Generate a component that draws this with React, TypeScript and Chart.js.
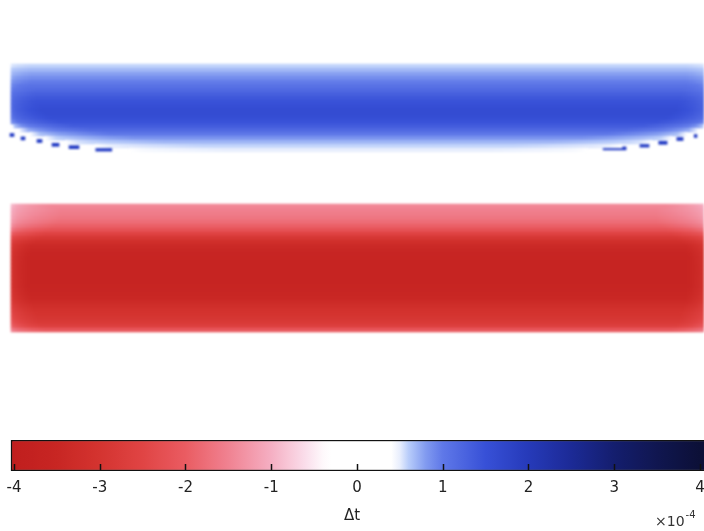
import React, { useEffect, useRef } from "react";
import { Chart, registerables } from "chart.js";

Chart.register(...registerables);

// Diverging colour scale for Δt (units of 1e-4): value stops and their RGB colours
const CMAP_VALUES = [-4, -3.5, -3, -2.5, -2, -1.5, -1, -0.6, -0.35, 0.45, 0.6, 0.8, 1.0, 1.5, 2.0, 2.5, 3.0, 3.5, 4];
const CMAP_COLORS: number[][] = [
  [192, 30, 30], [200, 38, 35], [212, 52, 48], [224, 68, 68], [234, 92, 98],
  [240, 130, 145], [245, 175, 195], [250, 222, 235], [255, 255, 255], [255, 255, 255],
  [185, 205, 250], [130, 155, 240], [95, 120, 232], [55, 80, 215], [38, 58, 185],
  [28, 42, 150], [20, 30, 110], [16, 22, 80], [12, 16, 55],
];

// Colour bar ticks
const TICK_VALUES = [-4, -3, -2, -1, 0, 1, 2, 3, 4];
const TICK_LABELS = ["-4", "-3", "-2", "-1", "0", "1", "2", "3", "4"];

// Upper field (positive Δt): one entry per depth row, starting at row BLUE_TOP
const BLUE_TOP = 15;
const blueValue = [0.45, 0.58, 0.68, 0.78, 0.88, 0.98, 1.08, 1.18, 1.3, 1.4, 1.48, 1.54, 1.58, 1.58, 1.55, 1.48, 1.36, 1.2, 1.02, 0.85, 0.7, 0.58, 0.5];
const blueEdge = [0.45, 0.52, 0.6, 0.66, 0.72, 0.8, 0.88, 0.95, 1.02, 1.08, 1.12, 1.14, 1.12, 1.08, 1.0, 0.85, 0.62, 0.5, 0.45, 0.45, 0.45, 0.45, 0.45];
const blueStart = [0, 0, 0, 0, 0, 0, 0, 0, 0, 0, 0, 0, 0, 0, 0, 0, 0.4, 1.3, 2.7, 4.9, 7.8, 12.1, 17.1];
const blueEnd = [100, 100, 100, 100, 100, 100, 100, 100, 100, 100, 100, 100, 100, 100, 100, 100, 99.6, 98.7, 97.3, 95.1, 92.2, 87.9, 82.9];
const blueRamp = [2.9, 2.9, 2.9, 2.9, 2.9, 2.9, 2.9, 3.6, 3.6, 3.6, 3.6, 4.3, 4.3, 5.0, 5.8, 7.2, 8.6, 10.1, 11.5, 12.9, 14.4, 15.8, 14.4];

// Lower field (negative Δt), starting at row RED_TOP
const RED_TOP = 51;
const redValue = [-1.45, -1.52, -1.58, -1.66, -1.78, -1.95, -2.2, -2.55, -2.9, -3.18, -3.36, -3.48, -3.55, -3.58, -3.6, -3.62, -3.62, -3.62, -3.6, -3.6, -3.58, -3.55, -3.52, -3.45, -3.35, -3.22, -3.1, -3.02, -2.95, -2.85, -2.65, -2.1];
const redEdge = [-0.9, -1.0, -1.05, -1.1, -1.2, -1.35, -1.6, -1.95, -2.3, -2.55, -2.7, -2.8, -2.85, -2.9, -2.9, -2.9, -2.9, -2.9, -2.9, -2.9, -2.9, -2.85, -2.8, -2.75, -2.65, -2.55, -2.45, -2.35, -2.25, -2.1, -1.9, -1.5];
const redRamp = [5.8, 7.2, 7.2, 7.2, 7.2, 6.5, 5.8, 5.0, 4.3, 3.6, 2.9, 2.9, 2.9, 2.9, 2.9, 2.9, 2.9, 2.9, 2.9, 2.9, 2.9, 2.9, 2.9, 2.9, 2.9, 3.2, 3.4, 3.6, 3.8, 4.0, 4.3, 5.0];
const RED_START = 0;
const RED_END = 100;

// Short streaks below the upper field
const dashStart = [-0.14, 1.44, 3.74, 5.9, 8.35, 12.2, 85.2, 90.5, 93.2, 95.8, 98.3];
const dashEnd = [0.43, 2.01, 4.46, 6.91, 9.78, 14.5, 88.5, 91.8, 94.4, 96.7, 98.7];
const dashDepth = [33.75, 34.6, 35.25, 36.2, 36.8, 37.4, 37.1, 36.4, 35.7, 34.75, 34.0];

// Horizontal extent shown and number of depth rows
const X_MIN = -1.583;
const X_MAX = 99.71;
const DEPTH_ROWS = 108;

// Colour bar axis range
const CB_MIN = -4.163;
const CB_MAX = 4.047;
const BAR_FROM = -4.035;
const BAR_TO = 4.4;

const FONT = "'DejaVu Sans', sans-serif";

function rgb(c: number[]): string {
  return `rgb(${Math.round(c[0])},${Math.round(c[1])},${Math.round(c[2])})`;
}

function colorAt(v: number): string {
  const n = CMAP_VALUES.length;
  if (v <= CMAP_VALUES[0]) return rgb(CMAP_COLORS[0]);
  if (v >= CMAP_VALUES[n - 1]) return rgb(CMAP_COLORS[n - 1]);
  for (let i = 0; i < n - 1; i++) {
    const a = CMAP_VALUES[i];
    const b = CMAP_VALUES[i + 1];
    if (v >= a && v <= b) {
      const t = (v - a) / (b - a);
      const c0 = CMAP_COLORS[i];
      const c1 = CMAP_COLORS[i + 1];
      return rgb([0, 1, 2].map((k) => c0[k] + (c1[k] - c0[k]) * t));
    }
  }
  return rgb(CMAP_COLORS[n - 1]);
}

// Row fill: flat at the row value, easing towards the edge value at both ends
function rowGradient(chart: any, x0: number, x1: number, edge: number, center: number, ramp: number) {
  const xs = chart.scales && chart.scales.x;
  if (!xs) return colorAt(center);
  const p0 = xs.getPixelForValue(x0);
  const p1 = xs.getPixelForValue(x1);
  if (!Number.isFinite(p0) || !Number.isFinite(p1) || p1 <= p0) return colorAt(center);
  const g = chart.ctx.createLinearGradient(p0, 0, p1, 0);
  const f = Math.min(0.5, ramp / (x1 - x0));
  const steps = 8;
  for (let s = 0; s <= steps; s++) {
    const t = s / steps;
    const c = colorAt(edge + (center - edge) * Math.sqrt(t));
    g.addColorStop(f * t, c);
    g.addColorStop(1 - f * t, c);
  }
  return g;
}

function fieldDataset(top: number, values: number[], edges: number[], starts: number[], ends: number[], ramps: number[]) {
  return {
    data: values.map((_, i) => ({ y: top + i + 0.5, x: [starts[i], ends[i]] })),
    backgroundColor: (c: any) => {
      if (c.type !== "data") return "transparent";
      const i = c.dataIndex;
      return rowGradient(c.chart, starts[i], ends[i], edges[i], values[i], ramps[i]);
    },
    borderWidth: 0,
    barThickness: 4,
    stack: "field",
  };
}

function barGradient(c: any) {
  const xs = c.chart.scales && c.chart.scales.x;
  if (!xs) return "#fff";
  const p0 = xs.getPixelForValue(-4);
  const p1 = xs.getPixelForValue(4);
  if (!Number.isFinite(p0) || !Number.isFinite(p1) || p1 <= p0) return "#fff";
  const g = c.chart.ctx.createLinearGradient(p0, 0, p1, 0);
  for (let k = 0; k <= 80; k++) {
    g.addColorStop(k / 80, colorAt(-4 + k * 0.1));
  }
  return g;
}

const innerTicks = {
  id: "innerTicks",
  afterDatasetsDraw(chart: any) {
    const { ctx, chartArea } = chart;
    const xs = chart.scales.x;
    ctx.save();
    ctx.strokeStyle = "#111";
    ctx.lineWidth = 1.5;
    for (const v of TICK_VALUES) {
      const px = Math.round(xs.getPixelForValue(v)) + 0.5;
      ctx.beginPath();
      ctx.moveTo(px, chartArea.bottom - 1);
      ctx.lineTo(px, chartArea.bottom - 7);
      ctx.stroke();
    }
    ctx.restore();
  },
  afterDraw(chart: any) {
    const { ctx } = chart;
    ctx.save();
    ctx.fillStyle = "#333";
    ctx.textBaseline = "alphabetic";
    ctx.font = `14px ${FONT}`;
    ctx.fillText("×10", 655, 96);
    const w = ctx.measureText("×10").width;
    ctx.font = `10px ${FONT}`;
    ctx.fillText("-4", 655 + w + 1, 88);
    ctx.restore();
  },
};

export default function App() {
  const heatRef = useRef<HTMLCanvasElement>(null);
  const barRef = useRef<HTMLCanvasElement>(null);

  useEffect(() => {
    const heat = new Chart(heatRef.current as HTMLCanvasElement, {
      type: "bar",
      data: {
        datasets: [
          fieldDataset(BLUE_TOP, blueValue, blueEdge, blueStart, blueEnd, blueRamp) as any,
          fieldDataset(
            RED_TOP,
            redValue,
            redEdge,
            redValue.map(() => RED_START),
            redValue.map(() => RED_END),
            redRamp
          ) as any,
          {
            data: dashStart.map((s, i) => ({ y: dashDepth[i], x: [s, dashEnd[i]] })),
            backgroundColor: "rgb(30,55,195)",
            borderWidth: 0,
            barThickness: 3,
            stack: "field",
          } as any,
        ],
      },
      options: {
        indexAxis: "y",
        animation: false,
        responsive: false,
        layout: { padding: 0 },
        plugins: { legend: { display: false }, tooltip: { enabled: false } },
        scales: {
          x: { type: "linear", min: X_MIN, max: X_MAX, display: false, stacked: false },
          y: { type: "linear", min: 0, max: DEPTH_ROWS, reverse: true, display: false, offset: false },
        },
      },
    });

    const bar = new Chart(barRef.current as HTMLCanvasElement, {
      type: "bar",
      data: {
        labels: ["Δt"],
        datasets: [
          {
            data: [[BAR_FROM, BAR_TO]] as any,
            backgroundColor: barGradient,
            borderColor: "#111",
            borderWidth: 1.5,
            borderSkipped: false,
            categoryPercentage: 1,
            barPercentage: 1,
          } as any,
        ],
      },
      options: {
        indexAxis: "y",
        animation: false,
        responsive: false,
        layout: { padding: { top: 10, left: 0, right: 0, bottom: 0 } },
        plugins: { legend: { display: false }, tooltip: { enabled: false } },
        scales: {
          x: {
            type: "linear",
            min: CB_MIN,
            max: CB_MAX,
            position: "bottom",
            afterBuildTicks: (s: any) => {
              s.ticks = TICK_VALUES.map((v) => ({ value: v }));
            },
            afterFit: (s: any) => {
              s.height = 60;
              s.paddingLeft = 0;
              s.paddingRight = 0;
            },
            ticks: {
              callback: (_v: any, i: number) => TICK_LABELS[i],
              font: { family: FONT, size: 15 },
              color: "#222",
              padding: 8,
              maxRotation: 0,
              autoSkip: false,
            },
            grid: { display: false, drawTicks: false },
            border: { display: false },
            title: {
              display: true,
              text: "Δt",
              font: { family: FONT, size: 15 },
              color: "#222",
              padding: { top: 2, bottom: 6 },
            },
          },
          y: { display: false },
        },
      },
      plugins: [innerTicks],
    });

    return () => {
      heat.destroy();
      bar.destroy();
    };
  }, []);

  return (
    <div style={{ position: "absolute", left: 0, top: 0, width: 704, height: 531, background: "#fff", overflow: "hidden" }}>
      <canvas
        ref={heatRef}
        width={704}
        height={432}
        style={{ position: "absolute", left: 0, top: 0, filter: "blur(1px)" }}
      />
      <canvas ref={barRef} width={704} height={101} style={{ position: "absolute", left: 0, top: 430 }} />
    </div>
  );
}
